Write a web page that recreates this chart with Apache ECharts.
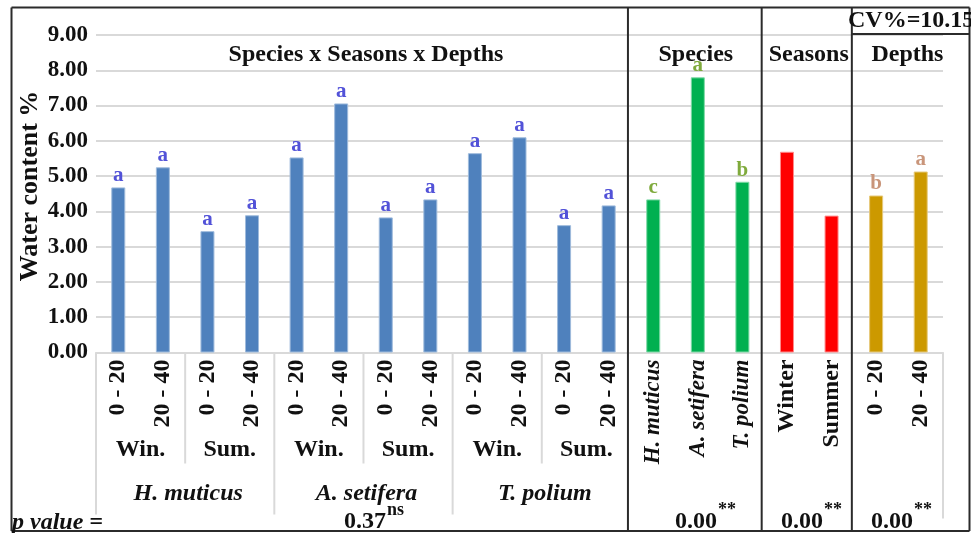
<!DOCTYPE html>
<html>
<head>
<meta charset="utf-8">
<script src="https://cdn.jsdelivr.net/npm/echarts@6.0.0/dist/echarts.min.js"></script>
<style>
html,body{margin:0;padding:0;background:#fff;}
#chart{width:971px;height:533px;}
</style>
</head>
<body>
<div id="chart"></div>
<script>
// ---------- DATA ----------
const depthLabels = ['0 - 20', '20 - 40'];
const seasonShort = ['Win.', 'Sum.'];
const speciesNames = ['H. muticus', 'A. setifera', 'T. polium'];
const seasonNames = ['Winter', 'Summer'];

// Species x Seasons x Depths (H.m Win 0-20, 20-40, Sum 0-20, 20-40, A.s ..., T.p ...)
const interactionValues = [4.68, 5.25, 3.44, 3.89, 5.53, 7.06, 3.83, 4.34, 5.65, 6.10, 3.61, 4.17];
const interactionLetters = ['a', 'a', 'a', 'a', 'a', 'a', 'a', 'a', 'a', 'a', 'a', 'a'];
const speciesValues = [4.34, 7.80, 4.84];
const speciesLetters = ['c', 'a', 'b'];
const seasonValues = [5.69, 3.88];
const depthValues = [4.45, 5.13];
const depthLetters = ['b', 'a'];

const sectionTitles = ['Species x Seasons x Depths', 'Species', 'Seasons', 'Depths'];
const pValues = ['0.37', '0.00', '0.00', '0.00'];
const pSuffix = ['ns', '**', '**', '**'];
const cvText = 'CV%=10.15';
const yAxisName = 'Water content %';
const pLabel = 'p value =';

// ---------- BUILD ----------
const categories = [];
speciesNames.forEach(function () {
  seasonShort.forEach(function () {
    depthLabels.forEach(function (d) { categories.push(d); });
  });
});
speciesNames.forEach(function (s) { categories.push(s); });
seasonNames.forEach(function (s) { categories.push(s); });
depthLabels.forEach(function (d) { categories.push(d); });

const nI = interactionValues.length;
const nS = speciesValues.length;
const nSe = seasonValues.length;
const nD = depthValues.length;
const N = categories.length;

function pad(vals, offset) {
  const arr = new Array(N).fill('-');
  vals.forEach(function (v, i) { arr[offset + i] = v; });
  return arr;
}

const FONT = 'Liberation Serif';
const speciesStart = nI, seasonStart = nI + nS, depthStart = nI + nS + nSe;

function labelCfg(color, letters, offset) {
  return {
    show: !!letters,
    position: 'top',
    distance: 1,
    fontFamily: FONT,
    fontWeight: 'bold',
    fontSize: 21,
    color: color,
    formatter: function (p) { return letters ? letters[p.dataIndex - offset] : ''; }
  };
}

const chart = echarts.init(document.getElementById('chart'), null, { renderer: 'canvas' });

chart.setOption({
  animation: false,
  backgroundColor: '#ffffff',
  grid: { left: 96, right: 28, top: 35, bottom: 180.5, containLabel: false },
  xAxis: {
    type: 'category',
    data: categories,
    axisLine: { show: true, lineStyle: { color: '#d9d9d9', width: 2 } },
    axisTick: { show: false },
    axisLabel: {
      interval: 0,
      rotate: 90,
      margin: 7,
      fontFamily: FONT,
      fontWeight: 'bold',
      fontSize: 24,
      color: '#111',
      formatter: function (v, i) {
        if (i >= speciesStart && i < seasonStart) return '{it|' + v + '}';
        return v;
      },
      rich: { it: { fontFamily: FONT, fontWeight: 'bold', fontStyle: 'italic', fontSize: 23, color: '#111' } }
    }
  },
  yAxis: {
    type: 'value',
    min: 0, max: 9, interval: 1,
    axisLine: { show: false },
    axisTick: { show: false },
    splitLine: { show: true, lineStyle: { color: '#d9d9d9', width: 2 } },
    axisLabel: {
      margin: 8,
      fontFamily: FONT,
      fontWeight: 'bold',
      fontSize: 23,
      color: '#111',
      formatter: function (v) { return v.toFixed(2); }
    }
  },
  series: [
    {
      type: 'bar', barWidth: 14, barGap: '-100%',
      data: pad(interactionValues, 0),
      itemStyle: { color: '#4F81BD', borderColor: '#9fbbdc', borderWidth: 1 },
      label: labelCfg('#5252d8', interactionLetters, 0)
    },
    {
      type: 'bar', barWidth: 14, barGap: '-100%',
      data: pad(speciesValues, speciesStart),
      itemStyle: { color: '#00B050', borderColor: '#7fd9a6', borderWidth: 1 },
      label: labelCfg('#7faa3c', speciesLetters, speciesStart)
    },
    {
      type: 'bar', barWidth: 14, barGap: '-100%',
      data: pad(seasonValues, seasonStart),
      itemStyle: { color: '#FF0000', borderColor: '#ff8a8a', borderWidth: 1 },
      label: { show: false }
    },
    {
      type: 'bar', barWidth: 14, barGap: '-100%',
      data: pad(depthValues, depthStart),
      itemStyle: { color: '#CC9900', borderColor: '#e6c97a', borderWidth: 1 },
      label: labelCfg('#c9957a', depthLetters, depthStart)
    }
  ]
});

// ---------- ANNOTATIONS (positions from the axis scale) ----------
function px(i) { return chart.convertToPixel({ xAxisIndex: 0 }, i); }
const step = px(1) - px(0);
function edge(i) { return px(i) - step / 2; } // left boundary of category i
const yZero = chart.convertToPixel({ yAxisIndex: 0 }, 0);

const g = [];
const gray = '#d9d9d9';
function vline(x, y1, y2, color, w) {
  g.push({ type: 'line', shape: { x1: x, y1: y1, x2: x, y2: y2 }, style: { stroke: color, lineWidth: w }, z: 50 });
}
function hline(y, x1, x2, color, w) {
  g.push({ type: 'line', shape: { x1: x1, y1: y, x2: x2, y2: y }, style: { stroke: color, lineWidth: w }, z: 50 });
}
function text(t, x, y, opt) {
  g.push({
    type: 'text', x: x, y: y, rotation: opt.rotation || 0, z: 60,
    style: {
      text: t, fill: opt.fill || '#111', fontFamily: FONT,
      fontWeight: opt.weight || 'bold', fontStyle: opt.style || 'normal',
      fontSize: opt.size || 24, align: opt.align || 'center', verticalAlign: opt.valign || 'middle'
    }
  });
}

// gray grouping lines in the category area
const seasonSepBottom = yZero + 111;
const speciesSepBottom = yZero + 162;
vline(edge(0), yZero, speciesSepBottom, gray, 2);
for (let s = 0; s < speciesNames.length; s++) {
  const base = s * 4;
  vline(edge(base + 2), yZero, seasonSepBottom, gray, 2);
  if (s > 0) vline(edge(base), yZero, speciesSepBottom, gray, 2);
}
vline(edge(N), yZero, yZero + 166, gray, 2);

// season and species group labels
for (let s = 0; s < speciesNames.length; s++) {
  for (let k = 0; k < seasonShort.length; k++) {
    const i0 = s * 4 + k * 2;
    text(seasonShort[k], (px(i0) + px(i0 + 1)) / 2, yZero + 97, { size: 24 });
  }
  text(speciesNames[s], (px(s * 4) + px(s * 4 + 3)) / 2 + 3, yZero + 141, { size: 24, style: 'italic' });
}

// section dividers (slightly left of the category boundaries, as in the source)
const divSpecies = edge(speciesStart) - 3;
const divSeasons = edge(seasonStart) - 3;
const divDepths = edge(depthStart) - 2;

// section titles
text(sectionTitles[0], (edge(0) + divSpecies) / 2 + 4, 55, { size: 24 });
text(sectionTitles[1], (divSpecies + divSeasons) / 2 + 1, 55, { size: 24 });
text(sectionTitles[2], (divSeasons + divDepths) / 2 + 2, 55, { size: 24 });
text(sectionTitles[3], (divDepths + edge(N)) / 2 + 10, 55, { size: 24 });

// CV
text(cvText, 848, 21, { size: 24, align: 'left' });

// y axis name
text(yAxisName, 30, 186, { size: 26, rotation: Math.PI / 2 });

// p values
text(pLabel, 12, 523, { size: 24, style: 'italic', align: 'left' });
const pRight = [386, 717, 823, 913];
pValues.forEach(function (v, i) {
  const xr = pRight[i];
  text(v, xr, 522, { size: 24, align: 'right' });
  text(pSuffix[i], xr + 1, 510, { size: 18, align: 'left' });
});

// frame and section dividers
const frameColor = '#2b2b2b';
const L = 11.5, T = 7.5, R = 969.5, B = 531;
hline(T, L, R, frameColor, 2);
hline(B, L, R, frameColor, 2);
vline(L, T, B, frameColor, 2);
vline(R, T, B, frameColor, 2);
vline(divSpecies, T, B, frameColor, 2);
vline(divSeasons, T, B, frameColor, 2);
vline(divDepths, T, B, frameColor, 2);
hline(34, divDepths, R, frameColor, 2);

chart.setOption({ graphic: g });
</script>
</body>
</html>
